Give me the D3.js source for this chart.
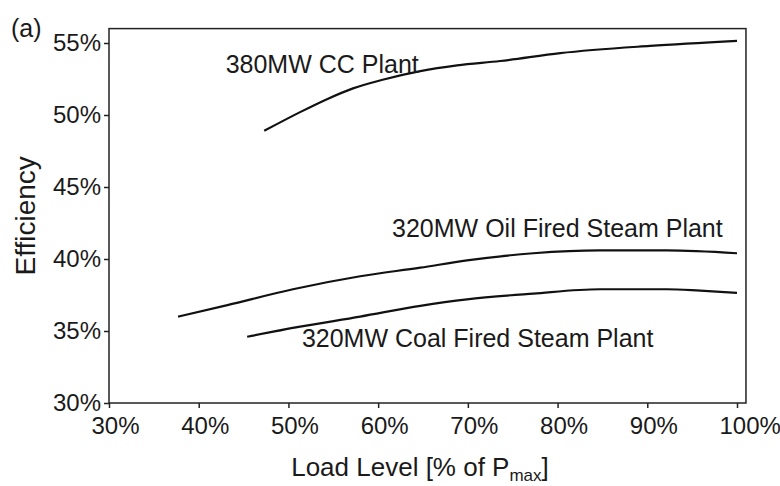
<!DOCTYPE html>
<html>
<head>
<meta charset="utf-8">
<script src="https://cdn.jsdelivr.net/npm/d3@7"></script>
<style>
  body { margin: 0; background: #fff; }
  text { font-family: "Liberation Sans", Arial, sans-serif; fill: #1a1a1a; }
</style>
</head>
<body>
<svg></svg>
<script>
// load level [% of Pmax] and efficiency [%]
let ccLoad = [47.3, 51.3, 54.3, 57.2, 60.5, 64.7, 68.8, 73.6, 80.3, 90.3, 100];
let ccEff = [48.9, 50.2, 51.1, 51.85, 52.45, 53.05, 53.45, 53.75, 54.3, 54.8, 55.15];

let oilLoad = [37.7, 43.2, 50.5, 58.0, 64.7, 69.9, 77.3, 84.7, 92.2, 100];
let oilEff = [36.0, 36.8, 37.9, 38.8, 39.4, 39.9, 40.4, 40.6, 40.6, 40.4];

let coalLoad = [45.4, 51.3, 58.0, 64.7, 69.9, 77.3, 84.7, 92.2, 95.9, 100];
let coalEff = [34.6, 35.3, 36.0, 36.75, 37.2, 37.6, 37.9, 37.9, 37.8, 37.65];

let xTicks = [30, 40, 50, 60, 70, 80, 90, 100];
let yTicks = [30, 35, 40, 45, 50, 55];

let curveLabels = [
  { text: '380MW CC Plant', x: 43.0, y: 52.9 },
  { text: '320MW Oil Fired Steam Plant', x: 61.55, y: 41.5 },
  { text: '320MW Coal Fired Steam Plant', x: 51.5, y: 33.9 }
];

let width = 780;
let height = 486;

let svg = d3.select('svg')
  .attr('width', width)
  .attr('height', height);

let xScale = d3.scaleLinear().domain([30, 100]).range([109, 737]);
let yScale = d3.scaleLinear().domain([30, 55]).range([403, 43]);

let fmt = d => d + '%';

// frame
svg.append('rect')
  .attr('x', xScale(30))
  .attr('y', yScale(56))
  .attr('width', xScale(101) - xScale(30))
  .attr('height', yScale(30) - yScale(56))
  .attr('fill', 'none')
  .attr('stroke', '#222')
  .attr('stroke-width', 1.5);

let xAxis = d3.axisBottom(xScale)
  .tickValues(xTicks)
  .tickFormat(fmt)
  .tickSizeInner(5)
  .tickSizeOuter(0)
  .tickPadding(9);

let yAxis = d3.axisLeft(yScale)
  .tickValues(yTicks)
  .tickFormat(fmt)
  .tickSizeInner(5)
  .tickSizeOuter(0)
  .tickPadding(3);

let gx = svg.append('g')
  .attr('transform', 'translate(0,' + yScale(30) + ')')
  .call(xAxis);

let gy = svg.append('g')
  .attr('transform', 'translate(' + xScale(30) + ',0)')
  .call(yAxis);

[gx, gy].forEach(g => {
  g.select('.domain').remove();
  g.selectAll('line').attr('stroke', '#222').attr('stroke-width', 1.5);
  g.selectAll('text')
    .style('font-size', '24px')
    .style('font-family', '"Liberation Sans", Arial, sans-serif')
    .attr('fill', '#1a1a1a');
});

// x labels sit a little to the right of their ticks in the original
gx.selectAll('text')
  .attr('text-anchor', 'start')
  .attr('dx', -18);

let line = d3.line()
  .x(d => xScale(d[0]))
  .y(d => yScale(d[1]))
  .curve(d3.curveMonotoneX);

let series = [
  d3.zip(ccLoad, ccEff),
  d3.zip(oilLoad, oilEff),
  d3.zip(coalLoad, coalEff)
];

svg.selectAll('path.curve')
  .data(series)
  .enter()
  .append('path')
  .attr('class', 'curve')
  .attr('d', line)
  .attr('fill', 'none')
  .attr('stroke', '#111')
  .attr('stroke-width', 2.2);

svg.selectAll('text.lab')
  .data(curveLabels)
  .enter()
  .append('text')
  .attr('class', 'lab')
  .attr('x', d => xScale(d.x))
  .attr('y', d => yScale(d.y))
  .style('font-size', '25px')
  .text(d => d.text);

// axis titles
let xTitle = svg.append('text')
  .attr('x', 420)
  .attr('y', 476)
  .attr('text-anchor', 'middle')
  .style('font-size', '26px');
xTitle.append('tspan').text('Load Level [% of P');
xTitle.append('tspan').attr('dy', 5).style('font-size', '17px').text('max');
xTitle.append('tspan').attr('dy', -5).text(']');

svg.append('text')
  .attr('transform', 'translate(35,' + (yScale(30) + yScale(56)) / 2 + ') rotate(-90)')
  .attr('text-anchor', 'middle')
  .style('font-size', '28px')
  .text('Efficiency');

svg.append('text')
  .attr('x', 11)
  .attr('y', 37)
  .style('font-size', '25px')
  .text('(a)');
</script>
</body>
</html>
